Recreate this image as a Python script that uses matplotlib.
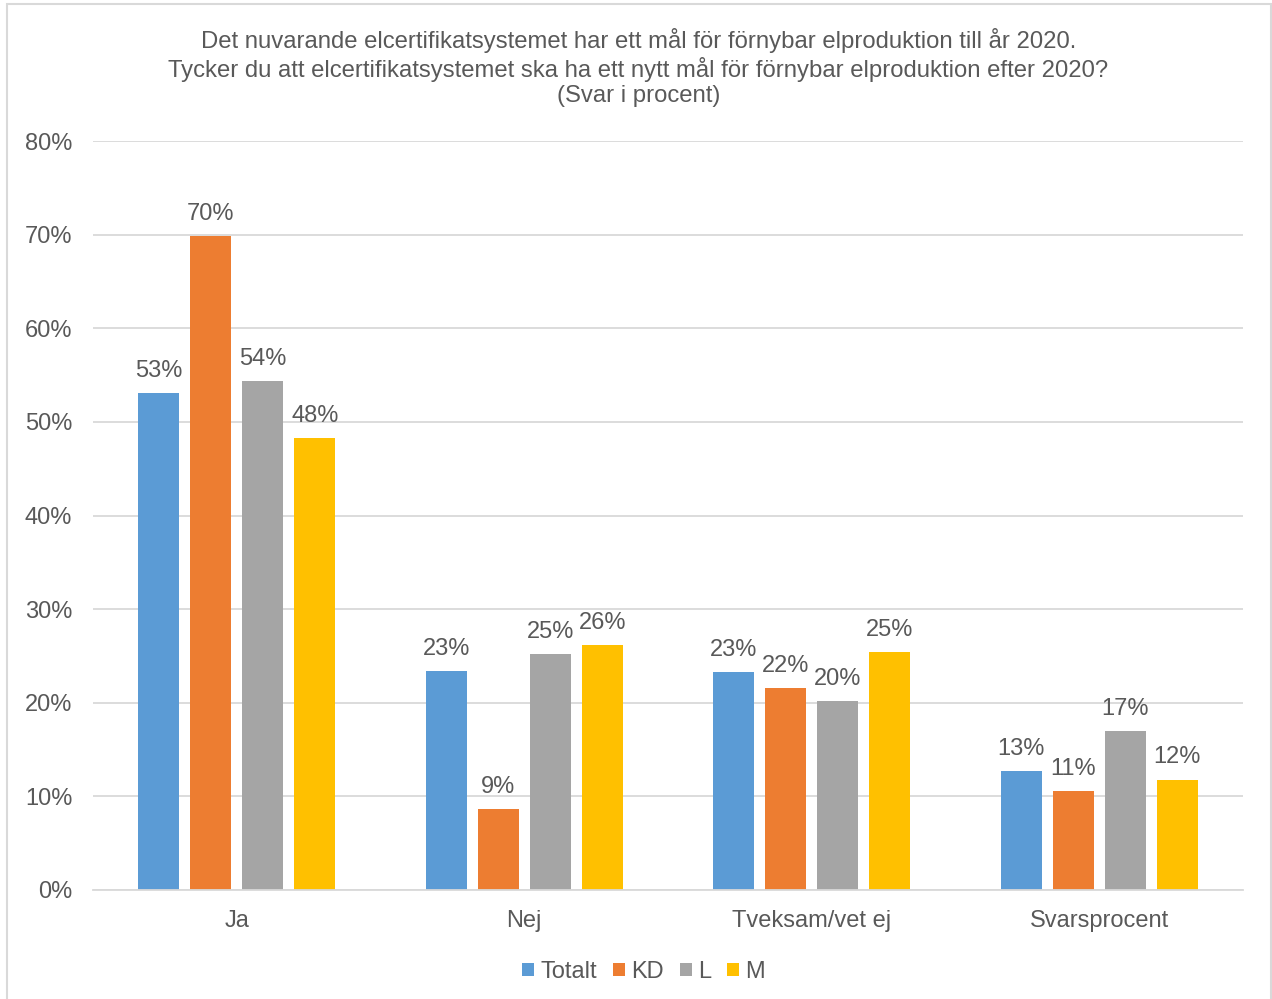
import numpy as np
import matplotlib.pyplot as plt
from matplotlib.patches import Rectangle

categories = ["Ja", "Nej", "Tveksam/vet ej", "Svarsprocent"]
series_names = ["Totalt", "KD", "L", "M"]
totalt = [53.1, 23.4, 23.3, 12.7]
kd = [69.8, 8.6, 21.6, 10.6]
l_parti = [54.4, 25.2, 20.2, 17.0]
m_parti = [48.3, 26.2, 25.4, 11.8]
colors = ["#5B9BD5", "#ED7D31", "#A5A5A5", "#FFC000"]

title = ("Det nuvarande elcertifikatsystemet har ett mål för förnybar elproduktion till år 2020.\n"
         "Tycker du att elcertifikatsystemet ska ha ett nytt mål för förnybar elproduktion efter 2020?\n"
         "(Svar i procent)")

text_color = "#595959"
grid_color = "#D9D9D9"
plt.rcParams["font.family"] = ["Liberation Sans", "DejaVu Sans"]

fig = plt.figure(figsize=(12.72, 9.99), dpi=100)
ax = fig.add_axes([93 / 1272, 1 - 890 / 999, 1150 / 1272, 749 / 999])

# chart border
fig.patches.append(Rectangle((7 / 1272, -0.01), 1264 / 1272, 1 - 4 / 999 + 0.01,
                             transform=fig.transFigure, fill=False,
                             edgecolor=grid_color, linewidth=1.5))

x = np.arange(len(categories))
width = 0.143
step = 0.181
data = [totalt, kd, l_parti, m_parti]
for i, (name, vals) in enumerate(zip(series_names, data)):
    bars = ax.bar(x + (i - 1.5) * step, vals, width, color=colors[i], label=name, zorder=3)
    for b, v in zip(bars, vals):
        ax.annotate(f"{v:.0f}%", (b.get_x() + b.get_width() / 2, v),
                    xytext=(0, 8), textcoords="offset points",
                    ha="center", va="bottom", fontsize=17, color=text_color)

ax.set_xlim(-0.5, 3.5)
ax.set_ylim(0, 80)
ax.set_yticks(np.arange(0, 81, 10))
ax.set_yticklabels([f"{t}%" for t in range(0, 81, 10)])
ax.set_xticks(x)
ax.set_xticklabels(categories)
ax.tick_params(axis="y", length=0, pad=15, labelsize=17, labelcolor=text_color)
ax.tick_params(axis="x", length=0, pad=14.5, labelsize=17, labelcolor=text_color)
ax.grid(axis="y", color=grid_color, linewidth=1.3, zorder=0)
for s in ["top", "right", "left"]:
    ax.spines[s].set_visible(False)
ax.spines["bottom"].set_color(grid_color)
ax.spines["bottom"].set_linewidth(1.3)
ax.spines["bottom"].set_zorder(4)

fig.text(0.502, 1 - 28 / 999, title, ha="center", va="top", fontsize=17.2,
         color=text_color, linespacing=1.2)

fig.legend(loc="center", bbox_to_anchor=(0.506, 1 - 972 / 999), ncol=4, frameon=False,
           fontsize=17, labelcolor=text_color, handlelength=0.5, handleheight=0.5,
           handletextpad=0.25, columnspacing=0.7)

fig.savefig("out.png", dpi=100)
